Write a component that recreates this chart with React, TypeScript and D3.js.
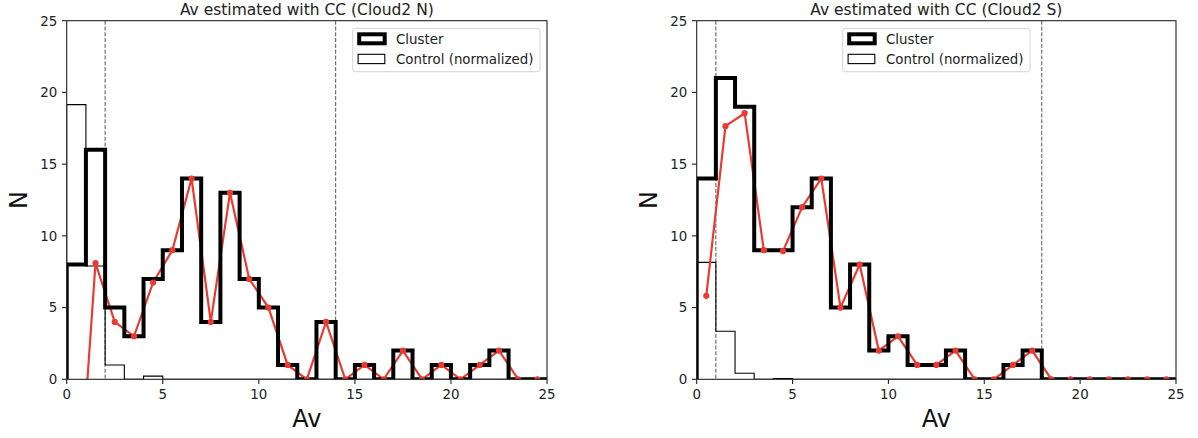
import React from "react";
import * as d3 from "d3";

// Av bin edges (width 1, from 0 to 25)
const binEdges = d3.range(0, 26, 1);
const binCenters = d3.range(0.5, 25, 1);

// Cloud2 N
const clusterN = [8, 16, 5, 3, 7, 9, 14, 4, 13, 7, 5, 1, 0, 4, 0, 1, 0, 2, 0, 1, 0, 1, 2, 0, 0];
const controlN = [19.15, 7.9, 1.0, 0, 0.22, 0, 0, 0, 0, 0, 0, 0, 0, 0, 0, 0, 0, 0, 0, 0, 0, 0, 0, 0, 0];
const excessN = [-11.15, 8.1, 4.0, 3.0, 6.75, 9, 14, 4, 13, 7, 5, 1, 0, 4, 0, 1, 0, 2, 0, 1, 0, 1, 2, 0, 0];
const limitsN = [2, 14];

// Cloud2 S
const clusterS = [14, 21, 19, 9, 9, 12, 14, 5, 8, 2, 3, 1, 1, 2, 0, 0, 1, 2, 0, 0, 0, 0, 0, 0, 0];
const controlS = [8.15, 3.35, 0.42, 0, 0.06, 0, 0, 0, 0, 0, 0, 0, 0, 0, 0, 0, 0, 0, 0, 0, 0, 0, 0, 0, 0];
const excessS = [5.82, 17.65, 18.55, 9, 8.93, 12, 14, 5, 8, 2, 3, 1, 1, 2, 0, 0, 1, 2, 0, 0, 0, 0, 0, 0, 0];
const limitsS = [1, 18];

const xTicks = [0, 5, 10, 15, 20, 25];
const yTicks = [0, 5, 10, 15, 20, 25];
const legendLabels = ["Cluster", "Control (normalized)"];

const FONT = "DejaVu Sans, Liberation Sans, sans-serif";
const RED = "#ec3a30";
const TOP = 20.7;
const BOTTOM = 379.3;

type PanelProps = {
  id: string;
  left: number;
  right: number;
  title: string;
  cluster: number[];
  control: number[];
  excess: number[];
  limits: number[];
  legendX: number;
};

function stepPath(counts: number[], x: d3.ScaleLinear<number, number>, y: d3.ScaleLinear<number, number>) {
  const pts: [number, number][] = [[x(binEdges[0]), y(0)]];
  counts.forEach((c, i) => {
    pts.push([x(binEdges[i]), y(c)]);
    pts.push([x(binEdges[i + 1]), y(c)]);
  });
  pts.push([x(binEdges[binEdges.length - 1]), y(0)]);
  return d3.line()(pts) as string;
}

function Panel({ id, left, right, title, cluster, control, excess, limits, legendX }: PanelProps) {
  const x = d3.scaleLinear().domain([0, 25]).range([left, right]);
  const y = d3.scaleLinear().domain([0, 25]).range([BOTTOM, TOP]);
  const redLine = d3
    .line<number>()
    .x((_, i) => x(binCenters[i]))
    .y((d) => y(d))(excess) as string;
  const cx = (left + right) / 2;
  const cy = (TOP + BOTTOM) / 2;
  const tickLen = 4.7;
  const fs = 13.4;

  return (
    <g>
      <defs>
        <clipPath id={`clip-${id}`}>
          <rect x={left} y={TOP} width={right - left} height={BOTTOM - TOP} />
        </clipPath>
      </defs>
      <g clipPath={`url(#clip-${id})`}>
        {limits.map((v) => (
          <line key={v} x1={x(v)} x2={x(v)} y1={y(25)} y2={y(0)} stroke="#555" strokeWidth={1} strokeDasharray="4,1.8" />
        ))}
        <path d={stepPath(control, x, y)} fill="none" stroke="#000" strokeWidth={1.1} />
        <path d={redLine} fill="none" stroke={RED} strokeWidth={2.2} />
        <path d={stepPath(cluster, x, y)} fill="none" stroke="#000" strokeWidth={4} strokeLinejoin="miter" />
        {excess.map((v, i) => (
          <circle key={i} cx={x(binCenters[i])} cy={y(v)} r={3.1} fill={RED} />
        ))}
      </g>
      {/* spines */}
      <rect x={left} y={TOP} width={right - left} height={BOTTOM - TOP} fill="none" stroke="#222" strokeWidth={1.1} />
      {/* x axis */}
      {xTicks.map((t) => (
        <g key={`x${t}`}>
          <line x1={x(t)} x2={x(t)} y1={BOTTOM} y2={BOTTOM + tickLen} stroke="#222" strokeWidth={1.1} />
          <text x={x(t)} y={BOTTOM + tickLen + 4.7 + 10} fontSize={fs} fontFamily={FONT} textAnchor="middle" fill="#222">
            {t}
          </text>
        </g>
      ))}
      {/* y axis */}
      {yTicks.map((t) => (
        <g key={`y${t}`}>
          <line x1={left - tickLen} x2={left} y1={y(t)} y2={y(t)} stroke="#222" strokeWidth={1.1} />
          <text x={left - tickLen - 4.7} y={y(t)} dy="0.36em" fontSize={fs} fontFamily={FONT} textAnchor="end" fill="#222">
            {t}
          </text>
        </g>
      ))}
      <text x={cx} y={14.5} fontSize={15.5} fontFamily={FONT} textAnchor="middle" fill="#222">
        {title}
      </text>
      <text x={cx} y={427} fontSize={24} fontFamily={FONT} textAnchor="middle" fill="#111">
        Av
      </text>
      <text
        transform={`translate(${left - 39.5},${cy}) rotate(-90)`}
        fontSize={24}
        fontFamily={FONT}
        textAnchor="middle"
        fill="#111"
      >
        N
      </text>
      {/* legend */}
      <g transform={`translate(${legendX},28.3)`}>
        <rect x={0} y={0} width={187.3} height={43.4} rx={2.7} fill="#fff" fillOpacity={0.8} stroke="#d4d4d4" strokeWidth={1} />
        <rect x={6.5} y={6} width={25.5} height={9} fill="#fff" stroke="#000" strokeWidth={4} />
        <rect x={5.4} y={26} width={26.7} height={9.3} fill="#fff" stroke="#000" strokeWidth={1.1} />
        <text x={43.3} y={11} dy="0.36em" fontSize={fs} fontFamily={FONT} fill="#222">
          {legendLabels[0]}
        </text>
        <text x={43.3} y={31} dy="0.36em" fontSize={fs} fontFamily={FONT} fill="#222">
          {legendLabels[1]}
        </text>
      </g>
    </g>
  );
}

export default function App() {
  return (
    <svg
      width={1198}
      height={438}
      style={{ position: "absolute", left: 0, top: 0, background: "#fff" }}
    >
      <Panel
        id="n"
        left={66.7}
        right={547}
        title="Av estimated with CC (Cloud2 N)"
        cluster={clusterN}
        control={controlN}
        excess={excessN}
        limits={limitsN}
        legendX={352.7}
      />
      <Panel
        id="s"
        left={696.7}
        right={1176}
        title="Av estimated with CC (Cloud2 S)"
        cluster={clusterS}
        control={controlS}
        excess={excessS}
        limits={limitsS}
        legendX={842.7}
      />
    </svg>
  );
}
